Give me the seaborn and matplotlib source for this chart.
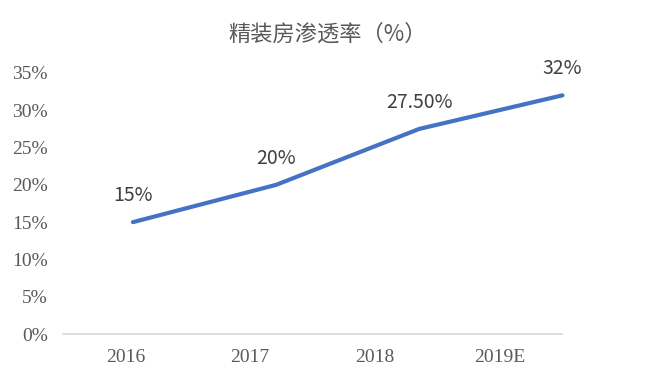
import matplotlib
matplotlib.use("Agg")
import matplotlib.pyplot as plt
import seaborn as sns
import pandas as pd

# data
years = ["2016", "2017", "2018", "2019E"]
rates = [15, 20, 27.5, 32]
labels = ["15%", "20%", "27.50%", "32%"]
y_ticks = [0, 5, 10, 15, 20, 25, 30, 35]

sns.set_style("white")
plt.rcParams['font.family'] = ['Noto Sans CJK SC', 'DejaVu Sans']

df = pd.DataFrame({"year": years, "rate": rates, "pos": range(len(years))})

fig = plt.figure(figsize=(6.57, 3.80), dpi=100)
ax = fig.add_axes([0.096, 0.121, 0.759, 0.687])

# category axis with the tick labels
ax.set_xlim(-0.5, len(years) - 0.5)
ax.set_xticks(range(len(years)))
ax.set_xticklabels(years, family='Liberation Serif', fontsize=14, color='#595959')
ax.set_ylim(0, 35)
ax.set_yticks(y_ticks)
ax.set_yticklabels([f"{v}%" for v in y_ticks], family='Liberation Serif',
                   fontsize=14, color='#595959')
ax.tick_params(axis='y', length=0, pad=11)
ax.tick_params(axis='x', length=0, pad=11)
for s in ['top', 'right', 'left']:
    ax.spines[s].set_visible(False)
ax.spines['bottom'].set_color('#D9D9D9')
ax.spines['bottom'].set_linewidth(1.2)

# the line sits a bit shifted against the labels in the original
ax2 = ax.twiny()
sns.lineplot(data=df, x="pos", y="rate", ax=ax2, color='#4472C4',
             linewidth=3, clip_on=False)
ax2.set_xlim(-0.488, 2.995)
ax2.set_ylim(0, 35)
ax2.axis('off')
for x, y, t in zip(df["pos"], rates, labels):
    ax2.annotate(t, (x, y), xytext=(0, 19), textcoords='offset points',
                 ha='center', va='center', fontsize=14, color='#404040',
                 annotation_clip=False)

fig.text(0.499, 0.91, "精装房渗透率（%）", ha='center', va='center',
         fontsize=16, color='#595959')

fig.savefig("out.png", dpi=100, facecolor='white')
